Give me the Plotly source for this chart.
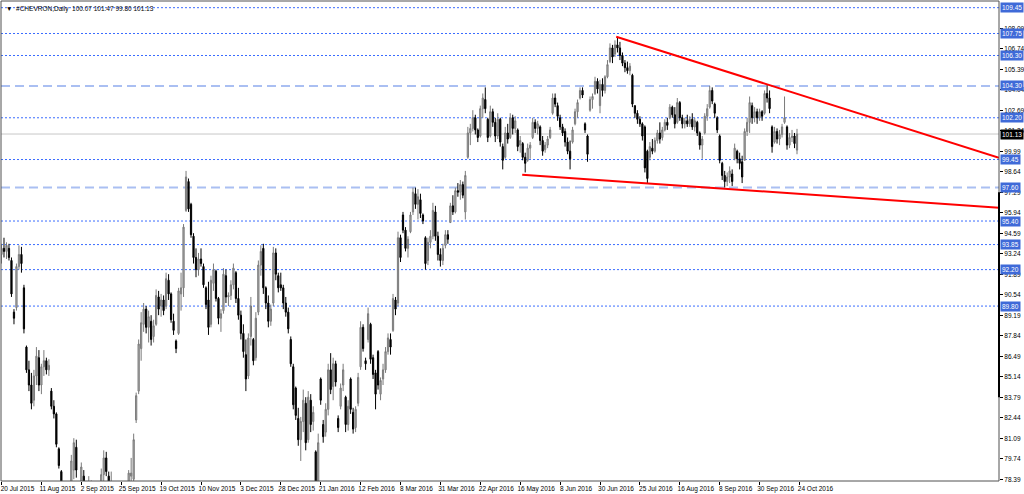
import plotly.graph_objects as go

# ---------------- data ----------------
symbol = "#CHEVRON,Daily"
date_labels = ["20 Jul 2015", "11 Aug 2015", "2 Sep 2015", "25 Sep 2015", "19 Oct 2015",
               "10 Nov 2015", "3 Dec 2015", "28 Dec 2015", "21 Jan 2016", "12 Feb 2016",
               "8 Mar 2016", "31 Mar 2016", "22 Apr 2016", "16 May 2016", "8 Jun 2016",
               "30 Jun 2016", "25 Jul 2016", "16 Aug 2016", "8 Sep 2016", "30 Sep 2016",
               "24 Oct 2016"]
bars_per_label = 16

opens = [
    93.2, 93.6, 93.4, 93.6, 92.8, 89.4, 89.7, 92.4, 93.2, 91.0, 87.1, 85.6, 84.6, 83.6, 85.2, 86.4,
    84.6, 85.8, 86.2, 85.6, 84.2, 83.2, 82.7, 80.4, 78.9, 75.0, 74.5, 74.0, 77.0, 79.0, 80.5, 77.5,
    77.0, 78.6, 77.6, 77.5, 78.0, 76.9, 76.4, 76.0, 77.0, 78.7, 79.8, 78.6, 77.5, 77.6, 76.3, 75.6,
    76.0, 76.4, 74.8, 76.5, 78.6, 78.4, 82.3, 84.2, 87.0, 88.6, 89.6, 88.4, 88.8, 87.8, 88.6, 90.4,
    89.8, 90.2, 89.8, 91.5, 90.6, 88.8, 87.5, 88.0, 90.6, 91.0, 96.1, 98.0, 96.5, 94.4, 93.0, 92.2,
    92.9, 92.4, 91.0, 90.2, 88.6, 91.3, 92.1, 90.3, 89.0, 89.5, 91.8, 90.4, 90.5, 91.2, 92.0, 90.3,
    89.2, 88.0, 86.6, 85.2, 87.8, 87.6, 86.4, 89.4, 92.5, 93.6, 91.0, 90.0, 88.8, 90.0, 93.3, 91.8,
    91.2, 91.0, 90.0, 89.4, 87.6, 85.8, 84.4, 82.4, 81.0, 82.2, 83.4, 81.0, 83.6, 82.2, 80.2, 77.0,
    85.0, 82.0, 81.5, 83.0, 85.6, 84.5, 86.0, 82.4, 83.2, 84.6, 83.8, 82.0, 85.0, 82.8, 81.8, 83.4,
    85.8, 88.4, 86.2, 87.6, 88.6, 86.4, 85.4, 86.8, 84.0, 85.0, 85.6, 86.8, 87.6, 88.2, 90.2, 90.0,
    94.3, 95.8, 94.8, 93.6, 94.7, 96.0, 97.2, 96.5, 96.8, 95.8, 94.3, 92.8, 94.0, 94.4, 96.0, 94.4,
    93.2, 92.8, 93.8, 94.5, 95.3, 96.4, 96.0, 97.4, 97.3, 97.8, 96.0, 99.6, 101.2, 101.5, 102.2, 101.4,
    101.0, 102.8, 103.4, 102.1, 101.0, 102.6, 101.9, 101.0, 102.1, 100.3, 99.6, 101.2, 100.9, 102.2, 101.5, 101.4,
    100.4, 100.5, 99.6, 99.4, 100.2, 100.9, 101.9, 101.5, 101.6, 100.7, 100.1, 100.4, 100.9, 102.5, 103.5, 103.0,
    102.2, 101.6, 101.3, 100.6, 100.0, 100.6, 101.8, 102.6, 103.5, 104.0, 101.8, 101.0, 102.7, 103.4, 103.8, 104.6,
    103.0, 104.4, 104.0, 104.9, 105.9, 106.8, 106.4, 107.0, 106.8, 106.3, 105.8, 105.5, 105.3, 105.0, 103.0, 102.5,
    102.1, 101.8, 101.6, 100.0, 99.6, 100.2, 100.0, 100.7, 101.2, 100.9, 101.4, 101.9, 102.2, 102.9, 102.4, 101.9,
    103.2, 102.2, 101.8, 102.0, 101.8, 102.1, 101.6, 101.9, 101.2, 100.4, 101.2, 102.3, 102.9, 104.0, 103.1, 102.2,
    101.0, 99.2, 98.4, 98.0, 98.3, 98.5, 99.5, 100.0, 99.5, 99.3, 99.4, 101.3, 101.9, 103.0, 102.2, 102.6,
    102.2, 102.6, 102.5, 103.8, 103.5, 101.6, 100.6, 101.3, 100.8, 101.1, 101.9, 101.6, 100.4, 100.9, 101.0, 100.07,
]
highs = [
    93.9, 94.3, 94.0, 93.9, 93.0, 89.6, 92.6, 93.8, 93.7, 91.2, 87.2, 86.2, 85.4, 85.6, 87.1, 86.9,
    86.0, 86.9, 86.4, 86.3, 84.4, 83.6, 82.8, 80.5, 79.0, 76.5, 76.0, 76.5, 80.0, 81.1, 81.0, 78.0,
    79.5, 79.0, 78.2, 78.6, 78.3, 77.6, 77.0, 77.2, 79.1, 80.3, 80.2, 78.9, 78.9, 77.8, 76.8, 76.4,
    77.2, 76.6, 76.5, 79.0, 79.8, 81.4, 84.1, 87.6, 89.4, 90.0, 89.8, 89.5, 89.2, 88.9, 90.9, 90.8,
    90.6, 90.5, 92.0, 91.9, 90.7, 89.3, 87.6, 91.0, 92.0, 95.2, 98.7, 98.2, 96.6, 94.6, 93.6, 93.3,
    93.6, 92.6, 91.1, 91.4, 91.8, 92.6, 92.2, 90.4, 89.6, 92.3, 92.2, 90.7, 91.5, 92.6, 92.1, 91.0,
    89.5, 88.6, 87.6, 88.0, 90.4, 87.7, 89.4, 92.8, 93.8, 93.9, 91.1, 90.5, 89.9, 93.7, 93.6, 92.0,
    92.0, 91.2, 90.4, 89.7, 87.8, 86.0, 84.5, 83.1, 82.5, 84.3, 83.8, 84.2, 84.0, 83.2, 80.3, 81.4,
    85.1, 82.3, 83.4, 86.0, 86.7, 86.4, 86.2, 82.6, 84.7, 86.0, 83.9, 83.6, 85.1, 83.1, 83.2, 85.4,
    88.8, 88.6, 86.4, 89.7, 88.7, 86.6, 85.6, 86.9, 85.1, 86.0, 87.1, 88.0, 88.0, 90.6, 90.4, 94.7,
    94.5, 96.0, 95.0, 94.4, 96.0, 97.6, 97.6, 97.5, 97.2, 95.9, 94.4, 94.3, 94.8, 96.6, 96.4, 94.7,
    93.6, 93.9, 94.8, 94.8, 96.6, 97.1, 97.6, 97.9, 98.1, 98.0, 98.7, 101.6, 101.8, 102.7, 102.4, 101.5,
    103.0, 103.8, 104.2, 102.2, 103.0, 102.8, 102.2, 102.5, 102.2, 100.5, 101.6, 101.8, 102.5, 102.4, 102.3, 101.5,
    101.0, 100.6, 99.9, 100.5, 100.6, 102.2, 102.1, 102.0, 101.7, 101.0, 100.6, 101.0, 101.6, 103.8, 103.8, 103.2,
    102.4, 101.8, 101.5, 100.9, 100.7, 101.6, 102.8, 103.4, 104.2, 104.2, 101.9, 101.1, 103.6, 103.8, 104.9, 104.8,
    104.7, 104.8, 105.0, 106.0, 107.1, 107.0, 107.3, 107.5, 107.2, 106.5, 106.0, 105.9, 105.8, 105.1, 103.0, 102.7,
    102.3, 101.9, 101.7, 100.1, 100.6, 100.8, 100.9, 101.4, 101.9, 101.6, 102.1, 102.2, 103.1, 103.0, 102.9, 103.5,
    103.3, 102.4, 102.2, 102.4, 102.3, 102.5, 102.2, 102.0, 101.3, 101.0, 102.5, 103.1, 104.3, 104.2, 103.2, 102.3,
    101.1, 99.3, 98.7, 98.6, 99.0, 98.8, 100.5, 100.1, 99.9, 99.7, 101.5, 102.2, 103.6, 103.2, 102.9, 102.8,
    102.8, 102.7, 104.0, 104.4, 104.0, 101.7, 101.6, 101.5, 101.4, 101.8, 103.6, 101.7, 101.2, 101.4, 101.2, 101.47,
]
lows = [
    92.6, 93.0, 92.9, 92.8, 90.4, 88.6, 89.5, 92.2, 92.0, 88.0, 85.4, 84.2, 83.0, 83.2, 84.6, 84.2,
    84.0, 85.2, 85.3, 85.2, 83.0, 82.4, 80.5, 79.1, 77.0, 69.6, 72.0, 72.8, 76.5, 78.4, 78.5, 75.8,
    76.5, 77.2, 76.8, 76.9, 76.6, 75.9, 75.6, 75.5, 76.8, 78.2, 78.6, 77.2, 77.0, 75.9, 75.2, 74.9,
    75.5, 74.3, 74.2, 76.3, 77.6, 77.8, 82.1, 84.0, 86.2, 88.1, 88.0, 87.4, 87.2, 87.4, 88.5, 89.2,
    89.1, 89.2, 89.6, 90.2, 88.7, 87.9, 86.7, 87.9, 89.5, 90.4, 96.0, 96.0, 94.3, 92.6, 91.7, 91.8,
    92.4, 91.0, 89.6, 87.9, 88.4, 90.8, 90.1, 88.6, 88.1, 89.3, 90.0, 89.8, 90.2, 90.9, 90.0, 88.9,
    87.6, 86.4, 84.2, 85.0, 87.2, 85.9, 86.2, 89.2, 91.8, 90.6, 89.6, 88.4, 88.5, 89.8, 91.5, 90.7,
    90.8, 89.6, 89.1, 88.0, 85.8, 83.0, 82.3, 80.6, 79.6, 81.5, 80.3, 80.8, 81.5, 81.6, 77.5, 75.3,
    83.3, 80.8, 81.2, 82.6, 84.0, 83.6, 84.5, 81.5, 83.0, 84.2, 81.5, 81.6, 82.7, 81.4, 81.5, 83.2,
    85.6, 86.8, 85.6, 87.4, 86.0, 85.0, 83.0, 84.3, 83.6, 84.6, 85.4, 86.6, 86.6, 88.1, 89.2, 89.8,
    92.7, 94.6, 93.4, 93.0, 94.6, 95.8, 96.2, 95.5, 95.6, 95.2, 92.2, 92.5, 93.6, 94.2, 94.1, 92.8,
    92.4, 92.5, 93.6, 93.9, 95.3, 95.8, 95.9, 97.0, 96.8, 96.9, 95.5, 99.5, 100.4, 101.3, 101.1, 100.6,
    100.9, 102.2, 102.5, 100.6, 100.9, 101.6, 100.6, 100.8, 100.3, 98.8, 99.5, 100.5, 100.8, 101.1, 101.2, 100.0,
    99.9, 99.4, 98.6, 99.3, 99.5, 100.8, 101.2, 101.1, 100.4, 99.7, 99.9, 100.2, 100.8, 102.4, 102.9, 102.0,
    101.4, 101.0, 100.3, 99.8, 98.8, 100.5, 101.7, 102.2, 103.4, 103.5, 101.2, 99.3, 102.6, 102.8, 103.7, 103.8,
    102.5, 103.6, 103.8, 104.8, 105.8, 105.8, 106.2, 106.5, 106.0, 105.6, 105.2, 105.1, 105.0, 102.9, 102.2, 101.8,
    101.6, 100.7, 98.6, 97.9, 99.4, 99.8, 99.9, 100.5, 100.5, 100.7, 101.3, 101.4, 102.1, 102.2, 101.5, 101.8,
    102.0, 101.5, 101.5, 101.6, 101.6, 101.4, 101.3, 101.0, 100.1, 99.5, 101.1, 102.0, 102.8, 103.1, 102.2, 101.2,
    99.2, 98.1, 97.6, 97.7, 97.9, 97.7, 99.4, 99.2, 98.8, 97.9, 99.4, 101.0, 101.2, 101.8, 101.9, 101.8,
    102.0, 102.0, 102.4, 103.2, 102.5, 99.9, 100.5, 100.5, 100.4, 100.9, 101.8, 100.1, 100.2, 100.6, 100.2, 99.80,
]
closes = [
    93.6, 93.4, 93.8, 93.0, 90.6, 89.0, 92.4, 93.2, 92.6, 88.3, 85.6, 84.6, 83.4, 85.2, 86.5, 84.6,
    85.8, 86.2, 85.6, 85.9, 83.2, 82.7, 80.7, 79.3, 77.5, 73.0, 72.5, 76.2, 79.6, 80.8, 79.0, 76.2,
    79.2, 77.6, 77.5, 78.0, 76.9, 76.4, 76.0, 76.9, 78.7, 79.8, 78.9, 77.5, 77.8, 76.3, 75.6, 76.0,
    76.6, 74.6, 76.0, 78.8, 78.8, 81.0, 83.9, 87.3, 88.7, 89.6, 88.4, 89.1, 87.6, 88.5, 90.5, 89.6,
    90.2, 89.5, 91.6, 90.6, 88.9, 88.2, 87.0, 90.8, 91.0, 95.0, 98.3, 96.2, 94.5, 93.0, 92.2, 92.9,
    92.6, 91.2, 89.9, 88.4, 91.5, 92.2, 90.3, 89.0, 89.3, 91.9, 90.4, 90.5, 91.2, 92.3, 90.3, 89.2,
    88.0, 86.8, 85.0, 87.7, 89.8, 86.2, 89.0, 92.5, 93.4, 91.0, 90.0, 88.8, 89.6, 93.3, 91.9, 91.0,
    91.0, 90.0, 89.4, 88.3, 86.0, 83.3, 82.6, 81.0, 82.2, 83.6, 80.8, 83.8, 82.0, 82.8, 77.8, 80.8,
    83.6, 81.2, 83.0, 85.6, 84.3, 86.0, 84.8, 81.8, 84.4, 85.6, 82.0, 83.2, 83.0, 81.7, 83.0, 85.1,
    88.4, 87.0, 86.0, 89.3, 86.3, 85.3, 84.0, 84.6, 84.9, 85.6, 86.8, 87.7, 87.1, 90.3, 89.6, 94.3,
    93.0, 94.8, 93.6, 94.2, 95.8, 97.3, 96.5, 97.0, 95.9, 95.4, 92.6, 94.0, 94.4, 96.1, 94.4, 93.2,
    92.8, 93.6, 94.5, 94.2, 96.4, 96.0, 97.4, 97.3, 97.8, 97.1, 98.4, 101.2, 101.5, 102.2, 101.4, 100.9,
    102.8, 103.5, 102.8, 100.9, 102.6, 101.9, 101.0, 102.1, 100.6, 99.4, 101.2, 100.8, 102.2, 101.5, 102.0, 100.3,
    100.7, 99.6, 99.2, 100.2, 100.4, 101.9, 101.5, 101.8, 100.7, 100.0, 100.4, 100.8, 101.4, 103.5, 103.1, 102.3,
    101.6, 101.2, 100.6, 100.0, 99.5, 101.4, 102.6, 103.2, 104.0, 103.7, 101.4, 99.8, 103.4, 103.6, 104.6, 104.1,
    104.4, 104.0, 104.9, 105.7, 106.8, 106.2, 107.0, 106.8, 106.3, 105.8, 105.5, 105.3, 105.6, 103.1, 102.5, 102.1,
    101.8, 101.0, 98.9, 98.2, 100.3, 100.0, 100.7, 101.2, 100.8, 101.4, 101.9, 101.7, 102.9, 102.4, 101.8, 103.2,
    102.2, 101.8, 102.0, 101.8, 102.1, 101.6, 102.0, 101.2, 100.4, 100.8, 102.3, 102.8, 104.0, 103.3, 102.5, 101.4,
    99.4, 98.4, 98.0, 98.3, 98.7, 98.0, 100.2, 99.5, 99.2, 98.3, 101.3, 101.9, 103.2, 102.2, 102.6, 102.2,
    102.6, 102.3, 103.8, 103.5, 102.8, 100.3, 101.3, 100.8, 101.1, 101.6, 102.2, 100.4, 100.9, 101.0, 100.5, 101.13,
]

# price scale labels of the terminal
scale_start = 78.39
scale_step = 1.35
scale_count = 23
# horizontal level lines drawn on the chart
dotted_levels = [109.45, 107.75, 106.30, 102.20, 99.45, 95.40, 93.85, 92.20, 89.80]
dashed_levels = [104.30, 97.60]
last_price = 101.13
# trend lines (bar index, price)
upper_trend_x = [246.5, 400.0]
upper_trend_y = [107.54, 99.57]
lower_trend_x = [208.8, 400.0]
lower_trend_y = [98.45, 96.27]
# dark marker on the right edge of the price scale
edge_marker = [83.79, 97.29]

# ---------------- figure ----------------
FONT = "Liberation Sans"
FS = 6.5
n = len(closes)
xs = list(range(n))

fig = go.Figure()
fig.add_trace(go.Candlestick(
    x=xs, open=opens, high=highs, low=lows, close=closes,
    increasing=dict(line=dict(color="#7a7a7a", width=1), fillcolor="#b4b4b4"),
    decreasing=dict(line=dict(color="#000000", width=1), fillcolor="#000000"),
    whiskerwidth=0, showlegend=False, hoverinfo="skip",
))

shapes = []
for lv in dotted_levels:
    shapes.append(dict(type="line", xref="paper", x0=0, x1=1, yref="y", y0=lv, y1=lv,
                       line=dict(color="#3a6cff", width=1, dash="2px,2px"), layer="below"))
for lv in dashed_levels:
    shapes.append(dict(type="line", xref="paper", x0=0, x1=1, yref="y", y0=lv, y1=lv,
                       line=dict(color="#aabff2", width=2, dash="9px,5px"), layer="below"))
shapes.append(dict(type="line", xref="paper", x0=0, x1=1, yref="y", y0=last_price, y1=last_price,
                   line=dict(color="#c8c8c8", width=1), layer="below"))
shapes.append(dict(type="line", xref="x", yref="y", x0=upper_trend_x[0], x1=upper_trend_x[1],
                   y0=upper_trend_y[0], y1=upper_trend_y[1], line=dict(color="#ff0000", width=2)))
shapes.append(dict(type="line", xref="x", yref="y", x0=lower_trend_x[0], x1=lower_trend_x[1],
                   y0=lower_trend_y[0], y1=lower_trend_y[1], line=dict(color="#ff0000", width=2)))
shapes.append(dict(type="rect", xref="paper", yref="paper", x0=0, x1=1, y0=0, y1=1,
                   line=dict(color="#505050", width=1)))
shapes.append(dict(type="rect", xref="paper", xsizemode="pixel", xanchor=1, x0=-1, x1=1,
                   yref="y", y0=edge_marker[0], y1=edge_marker[1],
                   line=dict(width=0), fillcolor="#000000"))

annotations = []
for lv in dotted_levels + dashed_levels:
    annotations.append(dict(xref="paper", x=1, xanchor="left", xshift=1, yref="y", y=lv,
                            text=f"{lv:.2f}", showarrow=False, bgcolor="#3f6ad8",
                            font=dict(family=FONT, size=FS, color="white"), borderpad=1))
annotations.append(dict(xref="paper", x=1, xanchor="left", xshift=1, yref="y", y=last_price,
                        text=f"{last_price:.2f}", showarrow=False, bgcolor="#000000",
                        font=dict(family=FONT, size=FS, color="white"), borderpad=1))
title_txt = "\u25bc  " + symbol + "&nbsp;&nbsp;" + " ".join(
    f"{v:.2f}" for v in (opens[-1], highs[-1], lows[-1], closes[-1]))
annotations.append(dict(xref="paper", yref="paper", x=0, y=1, xanchor="left", yanchor="top",
                        xshift=3, yshift=-2, text=title_txt, showarrow=False,
                        font=dict(family=FONT, size=FS, color="#000000")))

yticks = [round(scale_start + k * scale_step, 2) for k in range(scale_count)]

fig.update_layout(
    width=1024, height=494,
    margin=dict(l=1, r=25, t=1, b=13, autoexpand=False),
    paper_bgcolor="white", plot_bgcolor="white",
    showlegend=False,
    shapes=shapes, annotations=annotations,
    xaxis=dict(
        range=[-0.2, 400.0], rangeslider=dict(visible=False),
        tickvals=[i * bars_per_label for i in range(len(date_labels))], ticktext=date_labels,
        showgrid=False, zeroline=False, showline=False, automargin=False,
        ticks="outside", ticklen=3, tickcolor="#000000", tickangle=0,
        tickfont=dict(family=FONT, size=FS, color="#000000"),
        ticklabelshift=16, ticklabelstandoff=-2,
    ),
    yaxis=dict(
        side="right", range=[78.28, 109.89], automargin=False,
        tickvals=yticks, ticktext=[f"{v:.2f}" for v in yticks],
        showgrid=False, zeroline=False, showline=False,
        ticks="outside", ticklen=3, tickcolor="#000000",
        tickfont=dict(family=FONT, size=FS, color="#000000"),
    ),
)

fig.write_html("out.html", config={"displayModeBar": False},
               post_script="document.body.style.margin='0';document.body.style.overflow='hidden';")
